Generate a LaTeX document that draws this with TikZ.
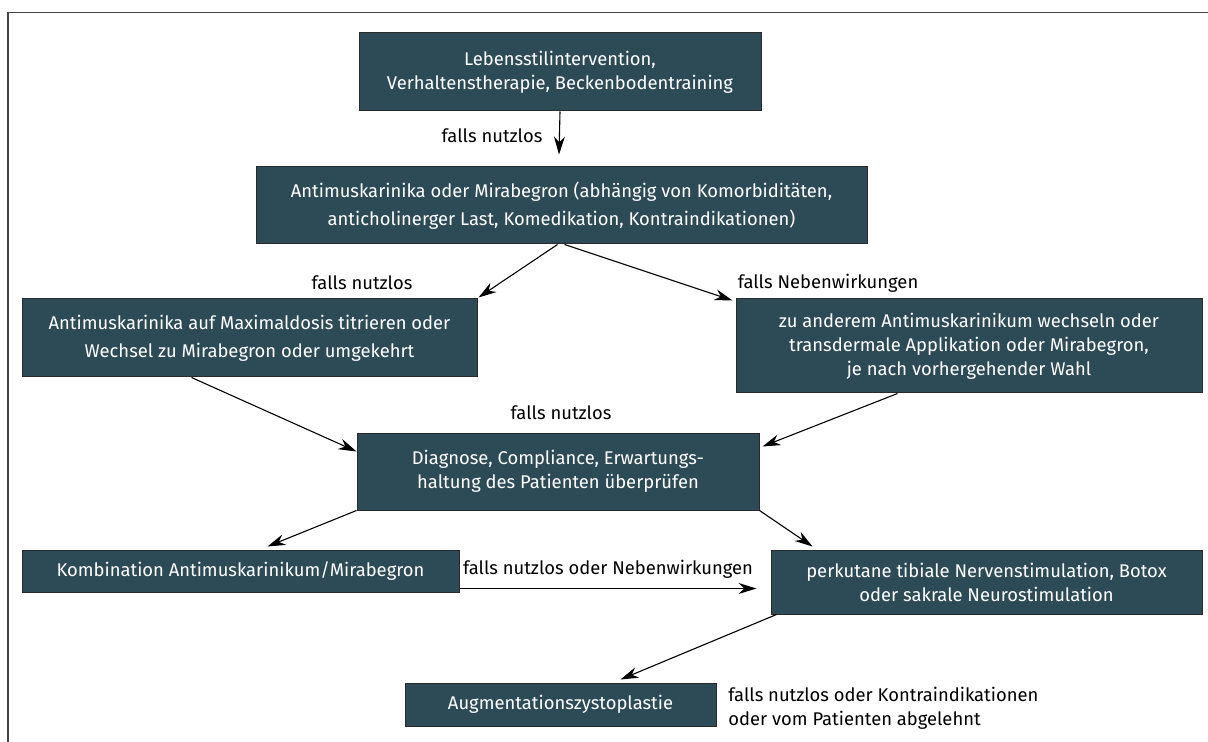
\documentclass[tikz,border=0pt]{standalone}
\usepackage{fontspec}
\setmainfont{Fira Sans}
\usetikzlibrary{arrows.meta,calc}
\definecolor{boxfill}{HTML}{2D4A57}
\definecolor{boxline}{HTML}{2A2A2A}
\definecolor{frameline}{HTML}{444444}
\begin{document}
\begin{tikzpicture}[x=0.5pt,y=-0.5pt,
  every node/.style={font=\fontsize{9.2}{12}\selectfont},
  box/.style={draw=boxline,line width=0.5pt,fill=boxfill,text=white,align=center,inner sep=0pt,anchor=center},
  lbl/.style={text=black,inner sep=0pt},
  arr/.style={draw=black,line width=0.55pt,-{Stealth[length=9pt,width=5.5pt]}},
  frame/.style={draw=frameline,line width=0.9pt}]
\useasboundingbox (0,0) rectangle (1208,742);
\coordinate (fl) at (8,742);
\coordinate (fc) at (8,12.5);
\coordinate (fr) at (1208,12.5);
\draw[frame] (fl) -- (fc) -- (fr);

\node[box,minimum width=402*0.5pt,minimum height=78*0.5pt] (b1) at (560,72)
  {Lebensstilintervention,\\Verhaltenstherapie, Beckenbodentraining};
\node[box,minimum width=611*0.5pt,minimum height=77*0.5pt] (b2) at (561.5,205.5)
  {Antimuskarinika oder Mirabegron (abhängig von Komorbiditäten,\\[2pt]anticholinerger Last, Komedikation, Kontraindikationen)};
\node[box,minimum width=455*0.5pt,minimum height=78*0.5pt] (b3) at (249.5,338)
  {Antimuskarinika auf Maximaldosis titrieren oder\\[2pt]Wechsel zu Mirabegron oder umgekehrt};
\node[box,minimum width=466*0.5pt,minimum height=94*0.5pt] (b4) at (969,346)
  {zu anderem Antimuskarinikum wechseln oder\\transdermale Applikation oder Mirabegron,\\je nach vorhergehender Wahl};
\node[box,minimum width=402*0.5pt,minimum height=77*0.5pt] (b5) at (558,471.5)
  {Diagnose, Compliance, Erwartungs-\\haltung des Patienten überprüfen};
\node[box,minimum width=437*0.5pt,minimum height=42*0.5pt] (b6) at (240.5,571)
  {Kombination Antimuskarinikum/Mirabegron};
\node[box,minimum width=431*0.5pt,minimum height=64*0.5pt] (b7) at (986.5,582)
  {perkutane tibiale Nervenstimulation, Botox\\oder sakrale Neurostimulation};
\node[box,minimum width=311*0.5pt,minimum height=43*0.5pt] (b8) at (560.5,704.5)
  {Augmentationszystoplastie};

\node[lbl] (l1) at (492,136) {falls nutzlos};
\node[lbl] (l2) at (362,283) {falls nutzlos};
\node[lbl] (l3) at (828,283) {falls Nebenwirkungen};
\node[lbl] (l4) at (561,413) {falls nutzlos};
\node[lbl] (l5) at (608,569) {falls nutzlos oder Nebenwirkungen};
\node[lbl,anchor=west,align=left] (l6) at (728,708) {falls nutzlos oder Kontraindikationen\\oder vom Patienten abgelehnt};

\coordinate (t1) at ($(b2.north)+(-2.5,-12)$);
\draw[arr] (b1.south) -- (t1);
\coordinate (s2) at ($(b2.south)+(-4,0)$);
\coordinate (t2) at ($(b3.north east)+(1,-1)$);
\draw[arr] (s2) -- (t2);
\coordinate (s3) at ($(b2.south)+(3,0)$);
\coordinate (t3) at ($(b4.north west)+(-3,2)$);
\draw[arr] (s3) -- (t3);
\coordinate (s4) at ($(b3.south west)+(170,0)$);
\coordinate (t4) at ($(b5.north west)+(0,19)$);
\draw[arr] (s4) -- (t4);
\coordinate (s5) at ($(b4.south west)+(162,0)$);
\coordinate (t5) at ($(b5.north east)+(3,14)$);
\draw[arr] (s5) -- (t5);
\coordinate (t6) at ($(b6.north west)+(246,-3)$);
\draw[arr] (b5.south west) -- (t6);
\coordinate (t7) at ($(b7.north west)+(42,-3)$);
\draw[arr] (b5.south east) -- (t7);
\coordinate (s8) at ($(b6.south east)+(0,-4)$);
\coordinate (t8) at ($(b7.west |- s8)+(-14,0)$);
\draw[arr] (s8) -- (t8);
\coordinate (s9) at ($(b7.south west)+(6,0)$);
\coordinate (t9) at ($(b8.north)+(60,-3)$);
\draw[arr] (s9) -- (t9);
\end{tikzpicture}
\end{document}
